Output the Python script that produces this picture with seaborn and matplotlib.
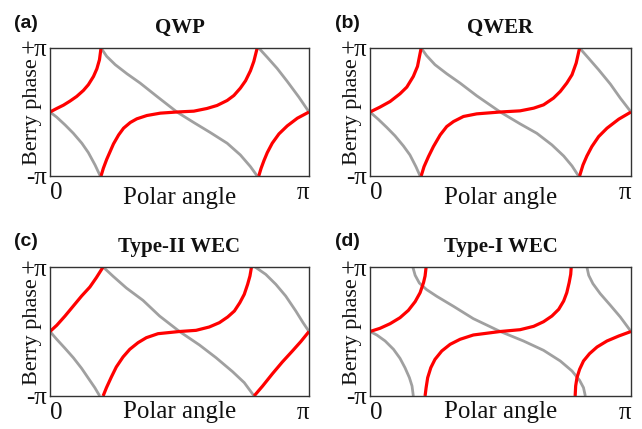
import matplotlib
matplotlib.use("Agg")
import matplotlib.pyplot as plt
import numpy as np
import pandas as pd
import seaborn as sns

# ---------------- data (x in units of pi, y in units of pi) ----------------
panel_letters = ["(a)", "(b)", "(c)", "(d)"]
panel_titles = ["QWP", "QWER", "Type-II WEC", "Type-I WEC"]
x_ticks = [0, 1]
x_tick_labels = ["0", "π"]
y_ticks = [-1, 1]
y_tick_labels = ["-π", "+π"]

# panel (a) QWP
a_red_x = [[0, 0.026, 0.052, 0.077, 0.103, 0.129, 0.148, 0.168, 0.181, 0.191, 0.197],
           [0.197, 0.206, 0.219, 0.232, 0.245, 0.265, 0.284, 0.310, 0.335, 0.374, 0.426, 0.490,
            0.555, 0.606, 0.645, 0.684, 0.710, 0.735, 0.755, 0.774, 0.787, 0.800],
           [0.806, 0.815, 0.826, 0.839, 0.858, 0.884, 0.916, 0.955, 1.0]]
a_red_y = [[0, 0.055, 0.107, 0.170, 0.243, 0.337, 0.426, 0.556, 0.676, 0.817, 1.0],
           [-1.0, -0.879, -0.739, -0.619, -0.499, -0.358, -0.253, -0.164, -0.107, -0.055, -0.018, 0.0,
            0.013, 0.055, 0.102, 0.180, 0.258, 0.373, 0.488, 0.645, 0.791, 1.0],
           [-1.0, -0.88, -0.76, -0.634, -0.488, -0.342, -0.217, -0.097, 0.0]]
a_gray_x = [[0, 0.026, 0.058, 0.090, 0.123, 0.148, 0.174, 0.194],
            [0.197, 0.219, 0.252, 0.297, 0.348, 0.413, 0.490, 0.555, 0.619, 0.684, 0.735, 0.774, 0.800],
            [0.806, 0.839, 0.877, 0.916, 0.961, 1.0]]
a_gray_y = [[0, -0.081, -0.201, -0.332, -0.488, -0.634, -0.828, -1.0],
            [1.0, 0.869, 0.739, 0.598, 0.452, 0.243, 0.0, -0.164, -0.321, -0.488, -0.671, -0.854, -1.0],
            [1.0, 0.854, 0.681, 0.478, 0.232, 0.0]]

# panel (b) QWER
b_red_x = [[0, 0.038, 0.077, 0.115, 0.141, 0.166, 0.182, 0.196],
           [0.196, 0.207, 0.224, 0.243, 0.269, 0.294, 0.320, 0.358, 0.409, 0.499, 0.575, 0.627,
            0.665, 0.703, 0.729, 0.754, 0.774, 0.790, 0.803],
           [0.803, 0.816, 0.831, 0.850, 0.876, 0.908, 0.953, 1.0]]
b_red_y = [[0, 0.076, 0.164, 0.285, 0.389, 0.556, 0.713, 1.0],
           [-1.0, -0.854, -0.697, -0.540, -0.358, -0.227, -0.149, -0.070, -0.029, 0.0, 0.018, 0.06,
            0.112, 0.217, 0.321, 0.452, 0.582, 0.765, 1.0],
           [-1.0, -0.828, -0.687, -0.540, -0.384, -0.253, -0.112, 0.0]]
b_gray_x = [[0, 0.032, 0.064, 0.096, 0.128, 0.153, 0.176, 0.192],
            [0.196, 0.217, 0.249, 0.294, 0.345, 0.409, 0.499, 0.575, 0.639, 0.697, 0.742, 0.774, 0.799],
            [0.803, 0.838, 0.876, 0.921, 0.959, 1.0]]
b_gray_y = [[0, -0.115, -0.240, -0.373, -0.530, -0.671, -0.854, -1.0],
            [1.0, 0.880, 0.739, 0.598, 0.452, 0.253, 0.0, -0.185, -0.332, -0.514, -0.687, -0.843, -1.0],
            [1.0, 0.838, 0.660, 0.436, 0.217, 0.0]]

# panel (c) Type-II WEC
c_red_x = [[0, 0.026, 0.058, 0.090, 0.122, 0.154, 0.179, 0.205],
           [0.205, 0.218, 0.237, 0.256, 0.282, 0.308, 0.340, 0.372, 0.417, 0.5, 0.564, 0.615,
            0.654, 0.686, 0.712, 0.733, 0.750, 0.763, 0.772, 0.778],
           [0.788, 0.821, 0.859, 0.897, 0.936, 0.968, 1.0]]
c_red_y = [[0, 0.096, 0.240, 0.395, 0.550, 0.690, 0.835, 1.0],
           [-1.0, -0.871, -0.705, -0.550, -0.395, -0.276, -0.173, -0.096, -0.034, 0.0, 0.018, 0.070,
            0.137, 0.225, 0.318, 0.447, 0.576, 0.731, 0.860, 1.0],
           [-1.0, -0.845, -0.654, -0.473, -0.302, -0.158, 0.0]]
c_gray_x = [[0, 0.026, 0.058, 0.090, 0.122, 0.151, 0.173, 0.192],
            [0.205, 0.244, 0.295, 0.359, 0.423, 0.5, 0.577, 0.641, 0.705, 0.750, 0.788],
            [0.792, 0.833, 0.872, 0.910, 0.949, 0.977, 1.0]]
c_gray_y = [[0, -0.121, -0.261, -0.406, -0.571, -0.742, -0.871, -1.0],
            [1.0, 0.855, 0.674, 0.483, 0.240, 0.0, -0.209, -0.406, -0.623, -0.793, -1.0],
            [1.0, 0.886, 0.731, 0.550, 0.318, 0.137, 0.0]]

# panel (d) Type-I WEC
d_red_x = [[0, 0.038, 0.077, 0.115, 0.147, 0.173, 0.192, 0.205, 0.211, 0.215],
           [0.211, 0.215, 0.221, 0.233, 0.249, 0.275, 0.307, 0.345, 0.396, 0.499, 0.575, 0.627,
            0.665, 0.697, 0.723, 0.742, 0.754, 0.763, 0.769, 0.771],
           [0.786, 0.788, 0.793, 0.803, 0.818, 0.841, 0.870, 0.908, 0.953, 1.0]]
d_red_y = [[0, 0.049, 0.121, 0.214, 0.328, 0.463, 0.602, 0.757, 0.860, 1.0],
           [-1.0, -0.871, -0.716, -0.561, -0.432, -0.302, -0.199, -0.121, -0.054, 0.0, 0.028, 0.080,
            0.152, 0.240, 0.344, 0.473, 0.602, 0.757, 0.886, 1.0],
           [-1.0, -0.845, -0.716, -0.587, -0.457, -0.344, -0.240, -0.147, -0.070, 0.0]]
d_gray_x = [[0, 0.026, 0.058, 0.090, 0.115, 0.134, 0.151, 0.161, 0.166],
            [0.164, 0.173, 0.189, 0.217, 0.256, 0.320, 0.396, 0.499, 0.588, 0.665, 0.729, 0.774,
             0.803, 0.818, 0.825],
            [0.831, 0.838, 0.854, 0.882, 0.921, 0.959, 1.0]]
d_gray_y = [[0, -0.054, -0.147, -0.276, -0.416, -0.561, -0.716, -0.845, -1.0],
            [1.0, 0.871, 0.752, 0.649, 0.545, 0.390, 0.199, 0.0, -0.147, -0.292, -0.457, -0.612,
             -0.757, -0.871, -1.0],
            [1.0, 0.871, 0.742, 0.587, 0.406, 0.225, 0.0]]

panel_data = [
    (a_red_x, a_red_y, a_gray_x, a_gray_y),
    (b_red_x, b_red_y, b_gray_x, b_gray_y),
    (c_red_x, c_red_y, c_gray_x, c_gray_y),
    (d_red_x, d_red_y, d_gray_x, d_gray_y),
]

# ---------------- styling ----------------
sns.set_theme(style="white")
plt.rcParams["font.family"] = ["Liberation Serif", "DejaVu Serif"]
RED = "#ff0000"
GRAY = "#a0a0a0"
FRAME = "#333333"
TXT = "#111111"

W, H = 642, 429
fig = plt.figure(figsize=(W / 100, H / 100), dpi=100)

# axes boxes in pixels: (left, top, right, bottom)
boxes = [(50, 48, 309, 176), (370, 48, 631, 176),
         (50, 267, 309, 396), (370, 267, 631, 396)]
letter_pos = [(14, 23), (335, 23), (14, 242), (335, 242)]
xlabel_y = [-0.085, -0.085, -0.035, -0.035]


def to_df(xs, ys):
    rows = []
    for k, (sx, sy) in enumerate(zip(xs, ys)):
        for xv, yv in zip(sx, sy):
            rows.append({"x": xv, "y": yv, "seg": k})
    return pd.DataFrame(rows)


for i, (box, (rx, ry, gx, gy)) in enumerate(zip(boxes, panel_data)):
    l, t, r, b = box
    ax = fig.add_axes([l / W, 1 - b / H, (r - l) / W, (b - t) / H])
    gdf = to_df(gx, gy)
    rdf = to_df(rx, ry)
    sns.lineplot(data=gdf, x="x", y="y", units="seg", estimator=None, sort=False,
                 color=GRAY, linewidth=2.0, ax=ax, legend=False)
    sns.lineplot(data=rdf, x="x", y="y", units="seg", estimator=None, sort=False,
                 color=RED, linewidth=2.3, ax=ax, legend=False)
    for ln in ax.lines:
        ln.set_solid_joinstyle("round")
        ln.set_solid_capstyle("butt")
    ax.set_xlim(0, 1)
    ax.set_ylim(-1, 1)
    ax.set_xticks(x_ticks)
    ax.set_xticklabels(x_tick_labels, fontsize=18)
    xl = ax.get_xticklabels()
    xl[0].set_ha("left")
    xl[1].set_ha("right")
    ax.set_yticks(y_ticks)
    ax.set_yticklabels(y_tick_labels, fontsize=18)
    ax.tick_params(axis="both", length=0, pad=2, colors=TXT)
    ax.tick_params(axis="x", pad=4)
    for sp in ax.spines.values():
        sp.set_visible(True)
        sp.set_color(FRAME)
        sp.set_linewidth(1.0)
    ax.set_xlabel("Polar angle", fontsize=18, color=TXT)
    ax.xaxis.set_label_coords(0.5, xlabel_y[i])
    ax.set_ylabel("Berry phase", fontsize=16, color=TXT)
    ax.yaxis.set_label_coords(-0.03, 0.5)
    ax.set_title(panel_titles[i], fontsize=15, fontweight="bold", pad=11, color=TXT)
    lx, ly = letter_pos[i]
    fig.text(lx / W, 1 - ly / H, panel_letters[i], fontsize=14, fontweight="bold",
             family=["Liberation Sans", "DejaVu Sans"], ha="left", va="center", color=TXT)

fig.savefig("out.png", dpi=100)
